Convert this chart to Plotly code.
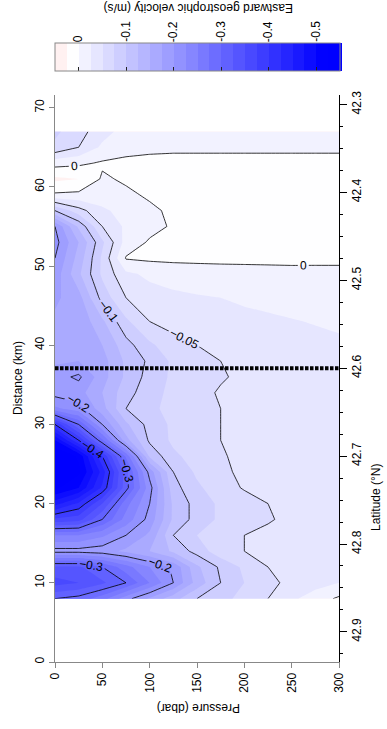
import plotly.graph_objects as go

# ---- data ----
pressure = [0, 25, 50, 75, 100, 125, 150, 175, 200, 225, 250, 275, 300]   # dbar
distance = [8, 10, 12, 14, 16, 18, 20, 22, 24, 26, 28, 30, 32, 34, 36, 38, 40,
            43, 46, 49, 51, 53, 55, 57, 59, 61, 63, 65, 67]                 # km

v08 = [-0.30, -0.29, -0.26, -0.21, -0.17, -0.135, -0.10, -0.085, -0.065, -0.05, -0.03, -0.012, 0.004]
v10 = [-0.36, -0.35, -0.33, -0.30, -0.25, -0.20, -0.14, -0.10, -0.075, -0.055, -0.045, -0.035, -0.025]
v12 = [-0.33, -0.33, -0.30, -0.26, -0.225, -0.195, -0.13, -0.095, -0.07, -0.05, -0.04, -0.035, -0.03]
v14 = [-0.19, -0.19, -0.185, -0.17, -0.15, -0.12, -0.09, -0.06, -0.05, -0.045, -0.04, -0.035, -0.03]
v16 = [-0.25, -0.25, -0.23, -0.20, -0.17, -0.10, -0.075, -0.06, -0.05, -0.045, -0.04, -0.035, -0.03]
v18 = [-0.37, -0.36, -0.30, -0.24, -0.19, -0.12, -0.09, -0.07, -0.058, -0.052, -0.045, -0.04, -0.035]
v20 = [-0.46, -0.42, -0.35, -0.26, -0.20, -0.12, -0.09, -0.07, -0.06, -0.05, -0.045, -0.04, -0.035]
v22 = [-0.53, -0.50, -0.42, -0.31, -0.21, -0.11, -0.08, -0.06, -0.048, -0.042, -0.038, -0.035, -0.032]
v24 = [-0.56, -0.53, -0.44, -0.31, -0.19, -0.10, -0.07, -0.055, -0.045, -0.04, -0.036, -0.033, -0.03]
v26 = [-0.55, -0.52, -0.40, -0.27, -0.12, -0.08, -0.065, -0.052, -0.045, -0.04, -0.036, -0.033, -0.03]
v28 = [-0.50, -0.40, -0.28, -0.16, -0.095, -0.07, -0.058, -0.05, -0.044, -0.04, -0.036, -0.033, -0.03]
v30 = [-0.40, -0.30, -0.20, -0.13, -0.09, -0.07, -0.058, -0.05, -0.045, -0.04, -0.036, -0.033, -0.03]
v32 = [-0.23, -0.21, -0.16, -0.10, -0.08, -0.068, -0.057, -0.05, -0.045, -0.04, -0.036, -0.033, -0.03]
v34 = [-0.19, -0.185, -0.15, -0.11, -0.085, -0.068, -0.056, -0.048, -0.044, -0.04, -0.036, -0.033, -0.03]
v36 = [-0.19, -0.205, -0.16, -0.12, -0.09, -0.07, -0.06, -0.052, -0.046, -0.04, -0.036, -0.033, -0.03]
v38 = [-0.17, -0.175, -0.16, -0.12, -0.095, -0.07, -0.056, -0.05, -0.045, -0.04, -0.036, -0.033, -0.03]
v40 = [-0.165, -0.17, -0.15, -0.11, -0.08, -0.06, -0.05, -0.044, -0.04, -0.036, -0.033, -0.03, -0.028]
v43 = [-0.17, -0.17, -0.13, -0.08, -0.05, -0.04, -0.035, -0.032, -0.03, -0.028, -0.026, -0.024, -0.022]
v46 = [-0.18, -0.16, -0.09, -0.05, -0.035, -0.03, -0.027, -0.025, -0.022, -0.02, -0.018, -0.016, -0.015]
v49 = [-0.19, -0.13, -0.07, -0.03, -0.02, -0.015, -0.012, -0.01, -0.009, -0.008, -0.007, -0.006, -0.006]
v51 = [-0.20, -0.14, -0.07, 0.002, 0.005, 0.006, 0.006, 0.006, 0.006, 0.006, 0.006, 0.005, 0.005]
v53 = [-0.21, -0.15, -0.08, -0.015, 0.003, 0.006, 0.006, 0.006, 0.006, 0.006, 0.006, 0.005, 0.005]
v55 = [-0.20, -0.12, -0.05, -0.02, -0.008, 0.003, 0.006, 0.006, 0.006, 0.006, 0.006, 0.005, 0.005]
v57 = [-0.10, -0.06, -0.03, -0.015, -0.004, 0.004, 0.006, 0.006, 0.006, 0.006, 0.006, 0.005, 0.005]
v59 = [-0.004, -0.006, -0.01, -0.004, 0.003, 0.005, 0.006, 0.006, 0.006, 0.006, 0.006, 0.005, 0.005]
v61 = [0.03, 0.025, -0.003, 0.003, 0.005, 0.006, 0.006, 0.006, 0.006, 0.006, 0.006, 0.005, 0.005]
v63 = [-0.01, -0.005, 0.003, 0.004, 0.005, 0.005, 0.005, 0.005, 0.005, 0.005, 0.005, 0.005, 0.005]
v65 = [-0.07, -0.05, -0.02, -0.006, -0.004, -0.003, -0.003, -0.003, -0.003, -0.003, -0.003, -0.003, -0.003]
v67 = [-0.08, -0.06, -0.035, -0.015, -0.008, -0.005, -0.004, -0.004, -0.004, -0.004, -0.004, -0.004, -0.004]

velocity = [v08, v10, v12, v14, v16, v18, v20, v22, v24, v26, v28, v30, v32, v34, v36, v38, v40,
            v43, v46, v49, v51, v53, v55, v57, v59, v61, v63, v65, v67]

station_line_km = 37.1          # dotted marker line
cbar_ticks = [0, -0.1, -0.2, -0.3, -0.4, -0.5]
cbar_labels = ["0", "-0.1", "-0.2", "-0.3", "-0.4", "-0.5"]
lat_ticks = [42.3, 42.4, 42.5, 42.6, 42.7, 42.8, 42.9]
lat_at_line = 42.6
km_per_deg = 111.0

# ---- geometry ----
W, H = 387, 729
ML, MR, MT, MB = 55, 48, 95, 67
PW, PH = W - ML - MR, H - MT - MB
YMAX = 71.6
VMAX, VMIN = 0.05, -0.55       # colour range of velocity
STEP = 0.025
CB_LEN = 285

def px_x(X):
    return (X - ML) / PW

def px_y(Y):
    return (H - MB - Y) / PH

FONT = "Liberation Sans, Arial, sans-serif"

# The colour bar runs from +0.05 (left) to -0.55 (right): fill uses westward speed (-velocity)
speed = [[-v for v in row] for row in velocity]
S0, S1 = -VMAX, -VMIN
nc = round((S1 - S0) / STEP) + 1

def pos_band(mid):
    # colorscale position that plotly uses for the band whose midpoint is `mid`
    s = mid - STEP
    return ((s - S0) / STEP + 0.5) / nc

cscale = [[0.0, "rgb(255,226,226)"], [pos_band(-0.0375), "rgb(255,226,226)"],
          [pos_band(-0.0125), "rgb(255,255,255)"], [pos_band(0.0), "rgb(255,255,255)"],
          [pos_band(0.55), "rgb(0,0,255)"], [1.0, "rgb(0,0,255)"]]

fig = go.Figure()

fig.add_trace(go.Contour(
    x=pressure, y=distance, z=speed,
    zmin=S0, zmax=S1, zauto=False,
    colorscale=cscale,
    contours=dict(start=S0, end=S1, size=STEP, coloring="fill", showlines=False),
    line=dict(width=0, smoothing=0),
    colorbar=dict(
        orientation="h", x=0, xanchor="left", xref="paper",
        y=px_y(76), yanchor="bottom",
        len=CB_LEN, lenmode="pixels", thickness=28,
        xpad=0, ypad=0,
        outlinecolor="#888888", outlinewidth=1,
        tickvals=[-t for t in cbar_ticks], showticklabels=False,
        ticks="inside", ticklen=4, tickcolor="#222222",
    ),
    hoverinfo="skip",
))

for start, end, size in [(-0.4, -0.1, 0.1), (-0.05, 0.0, 0.05)]:
    fig.add_trace(go.Contour(
        x=pressure, y=distance, z=velocity,
        showscale=False,
        contours=dict(start=start, end=end, size=size, coloring="lines",
                      showlabels=True,
                      labelfont=dict(size=12, color="black", family=FONT),
                      labelformat=".2~g"),
        line=dict(width=0.8, color="black", smoothing=0),
        colorscale=[[0, "black"], [1, "black"]],
        hoverinfo="skip",
    ))

fig.add_trace(go.Scatter(
    x=[pressure[0], pressure[-1]], y=[station_line_km, station_line_km],
    mode="lines", line=dict(color="black", width=4, dash="3.5px,1.5px"),
    showlegend=False, hoverinfo="skip",
))

# invisible trace to activate the latitude axis
fig.add_trace(go.Scatter(x=[None], y=[None], yaxis="y2", showlegend=False))

lat0 = lat_at_line + station_line_km / km_per_deg
lat1 = lat_at_line - (YMAX - station_line_km) / km_per_deg

fig.update_layout(
    width=W, height=H,
    margin=dict(l=ML, r=MR, t=MT, b=MB, autoexpand=False),
    paper_bgcolor="white", plot_bgcolor="white",
    showlegend=False,
    font=dict(family=FONT, size=12, color="black"),
    xaxis=dict(range=[0, 300], tickvals=[0, 50, 100, 150, 200, 250, 300],
               ticks="outside", ticklen=5, tickcolor="#888888",
               showline=True, linecolor="#888888", linewidth=1,
               showgrid=False, zeroline=False, tickangle=-90,
               tickfont=dict(size=12, color="black")),
    yaxis=dict(range=[0, YMAX], tickvals=[0, 10, 20, 30, 40, 50, 60, 70],
               ticks="outside", ticklen=5, tickcolor="#888888",
               showline=True, linecolor="#888888", linewidth=1,
               showgrid=False, zeroline=False, tickangle=-90,
               tickfont=dict(size=12, color="black")),
    yaxis2=dict(overlaying="y", side="right", range=[lat0, lat1],
                tickvals=lat_ticks, ticks="outside", ticklen=7, tickcolor="black",
                showline=True, linecolor="black", linewidth=1,
                showgrid=False, zeroline=False, tickangle=-90,
                tickfont=dict(size=12, color="black"),
                minor=dict(dtick=0.025, tick0=42.3, ticks="outside", ticklen=3,
                           tickcolor="black", showgrid=False)),
)

ann = []
for v, t in zip(cbar_ticks, cbar_labels):
    X = ML + (VMAX - v) / (VMAX - VMIN) * CB_LEN
    ann.append(dict(text=t, x=px_x(X), y=px_y(44), xref="paper", yref="paper",
                    xanchor="center", yanchor="bottom", textangle=-90,
                    showarrow=False, font=dict(size=12)))
ann.append(dict(text="Eastward geostrophic velocity (m/s)", x=px_x(199), y=px_y(8),
                xref="paper", yref="paper", xanchor="center", yanchor="middle",
                textangle=180, showarrow=False, font=dict(size=12)))
ann.append(dict(text="Pressure (dbar)", x=px_x(199), y=px_y(708),
                xref="paper", yref="paper", xanchor="center", yanchor="middle",
                textangle=180, showarrow=False, font=dict(size=12)))
ann.append(dict(text="Distance (km)", x=px_x(18), y=px_y(378),
                xref="paper", yref="paper", xanchor="center", yanchor="middle",
                textangle=-90, showarrow=False, font=dict(size=12)))
ann.append(dict(text="Latitude (°N)", x=px_x(376), y=px_y(497),
                xref="paper", yref="paper", xanchor="center", yanchor="middle",
                textangle=-90, showarrow=False, font=dict(size=12)))
fig.update_layout(annotations=ann)

fig.write_html("out.html")
